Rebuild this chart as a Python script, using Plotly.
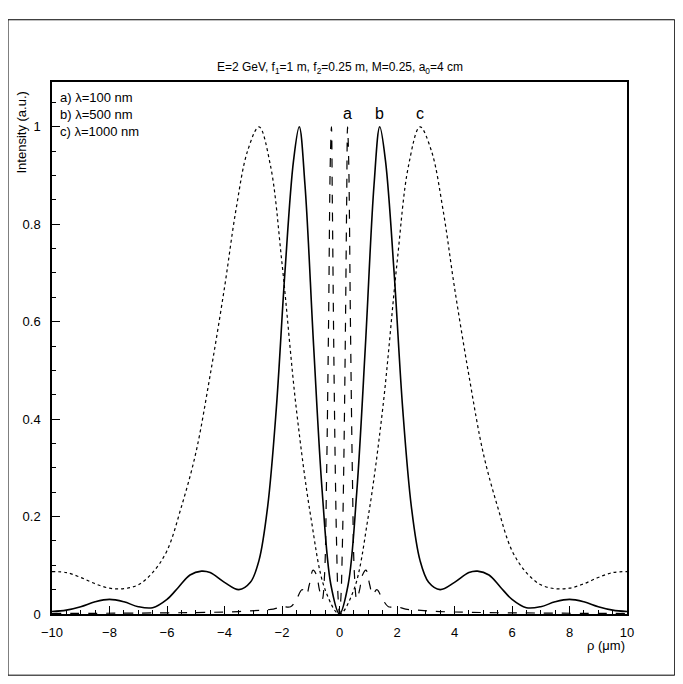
import plotly.graph_objects as go

# half-profiles (rho >= 0), curves are symmetric about rho = 0
rho_a = [0, 0.05, 0.1, 0.15, 0.2, 0.25, 0.28, 0.32, 0.38, 0.45, 0.52, 0.6, 0.7, 0.8, 0.92,
         1.05, 1.15, 1.3, 1.5, 1.7, 2.0, 2.3, 2.7, 3.5, 5.0, 10.0]
int_a = [0, 0.035, 0.14, 0.31, 0.55, 0.85, 1.0, 0.93, 0.6, 0.28, 0.08, 0.03, 0.05, 0.08, 0.09,
         0.06, 0.04, 0.05, 0.03, 0.015, 0.015, 0.01, 0.008, 0.005, 0.003, 0.001]

rho_b = [0, 0.3, 0.6, 0.9, 1.2, 1.4, 1.6, 1.9, 2.2, 2.5, 2.8, 3.1, 3.5, 4.0, 4.5, 4.8, 5.2,
         5.6, 6.0, 6.5, 7.0, 7.5, 8.0, 8.5, 9.0, 9.5, 10.0]
int_b = [0, 0.06, 0.25, 0.55, 0.88, 1.0, 0.93, 0.7, 0.42, 0.22, 0.11, 0.065, 0.05, 0.065, 0.085,
         0.088, 0.08, 0.055, 0.03, 0.013, 0.015, 0.025, 0.03, 0.025, 0.015, 0.008, 0.005]

rho_c = [0, 0.5, 1.0, 1.5, 2.0, 2.4, 2.8, 3.2, 3.6, 4.0, 4.5, 5.0, 5.5, 6.0, 6.5, 7.0, 7.5,
         8.0, 8.5, 9.0, 9.5, 10.0]
int_c = [0, 0.05, 0.2, 0.42, 0.72, 0.92, 1.0, 0.95, 0.83, 0.67, 0.49, 0.33, 0.22, 0.13, 0.085,
         0.06, 0.052, 0.053, 0.062, 0.075, 0.085, 0.087]

curve_labels = ["a", "b", "c"]
legend_lines = ["a) λ=100 nm", "b) λ=500 nm", "c) λ=1000 nm"]


def mirror(x, y):
    return [-v for v in x[::-1]] + x[1:], y[::-1] + y[1:]


fig = go.Figure()
for x, y, dash in [(rho_a, int_a, "dash"), (rho_b, int_b, "solid"), (rho_c, int_c, "dot")]:
    xx, yy = mirror(x, y)
    fig.add_trace(go.Scatter(x=xx, y=yy, mode="lines", line_shape="spline",
                             line=dict(color="black", width=1.6 if dash == "solid" else 1.2, dash=dash)))

for lab, xp in zip(curve_labels, [rho_a[6], rho_b[5], rho_c[6]]):
    fig.add_annotation(x=xp, y=1.0, text=lab, showarrow=False, yanchor="bottom", yshift=3,
                       font=dict(size=16))

fig.add_annotation(x=-9.8, y=1.08, text="<br>".join(legend_lines), showarrow=False,
                   xanchor="left", yanchor="top", align="left", font=dict(size=13))

fig.add_annotation(xref="paper", yref="paper", x=0.5, y=1.0, yanchor="bottom", yshift=4,
                   text="E=2 GeV, f<sub>1</sub>=1 m, f<sub>2</sub>=0.25 m, M=0.25, a<sub>0</sub>=4 cm",
                   showarrow=False, font=dict(size=12))
# axis titles
fig.add_annotation(xref="paper", yref="paper", x=1.0, y=0, xanchor="right", yanchor="top", yshift=-22,
                   text="ρ (μm)", showarrow=False, font=dict(size=13))
fig.add_annotation(xref="paper", yref="paper", x=0, y=1.0, xanchor="right", yanchor="top",
                   xshift=-22, yshift=-8,
                   text="Intensity (a.u.)", textangle=-90, showarrow=False, font=dict(size=13))

fig.add_shape(type="rect", xref="paper", yref="paper", x0=-0.0765, x1=1.083, y0=-0.115, y1=1.117,
              line=dict(color="black", width=1))

axis_common = dict(showgrid=False, zeroline=False, showline=True, mirror=True, linecolor="black",
                   linewidth=1.5, ticks="inside", ticklen=8, tickcolor="black",
                   tickfont=dict(size=13), automargin=False)
fig.update_xaxes(range=[-10, 10], dtick=2, minor=dict(dtick=0.5, ticks="inside", ticklen=4, tickcolor="black"),
                 ticklabelstandoff=6, **axis_common)
fig.update_yaxes(range=[0, 1.092], tickvals=[0, 0.2, 0.4, 0.6, 0.8, 1], ticktext=["0", "0.2", "0.4", "0.6", "0.8", "1"],
                 minor=dict(dtick=0.05, ticks="inside", ticklen=4, tickcolor="black"),
                 ticklabelstandoff=7, **axis_common)

fig.update_layout(width=683, height=684, showlegend=False, plot_bgcolor="white", paper_bgcolor="white",
                  font=dict(family="Liberation Sans", color="black"),
                  margin=dict(l=44, r=64, t=74, b=78))
fig.write_html("out.html")
